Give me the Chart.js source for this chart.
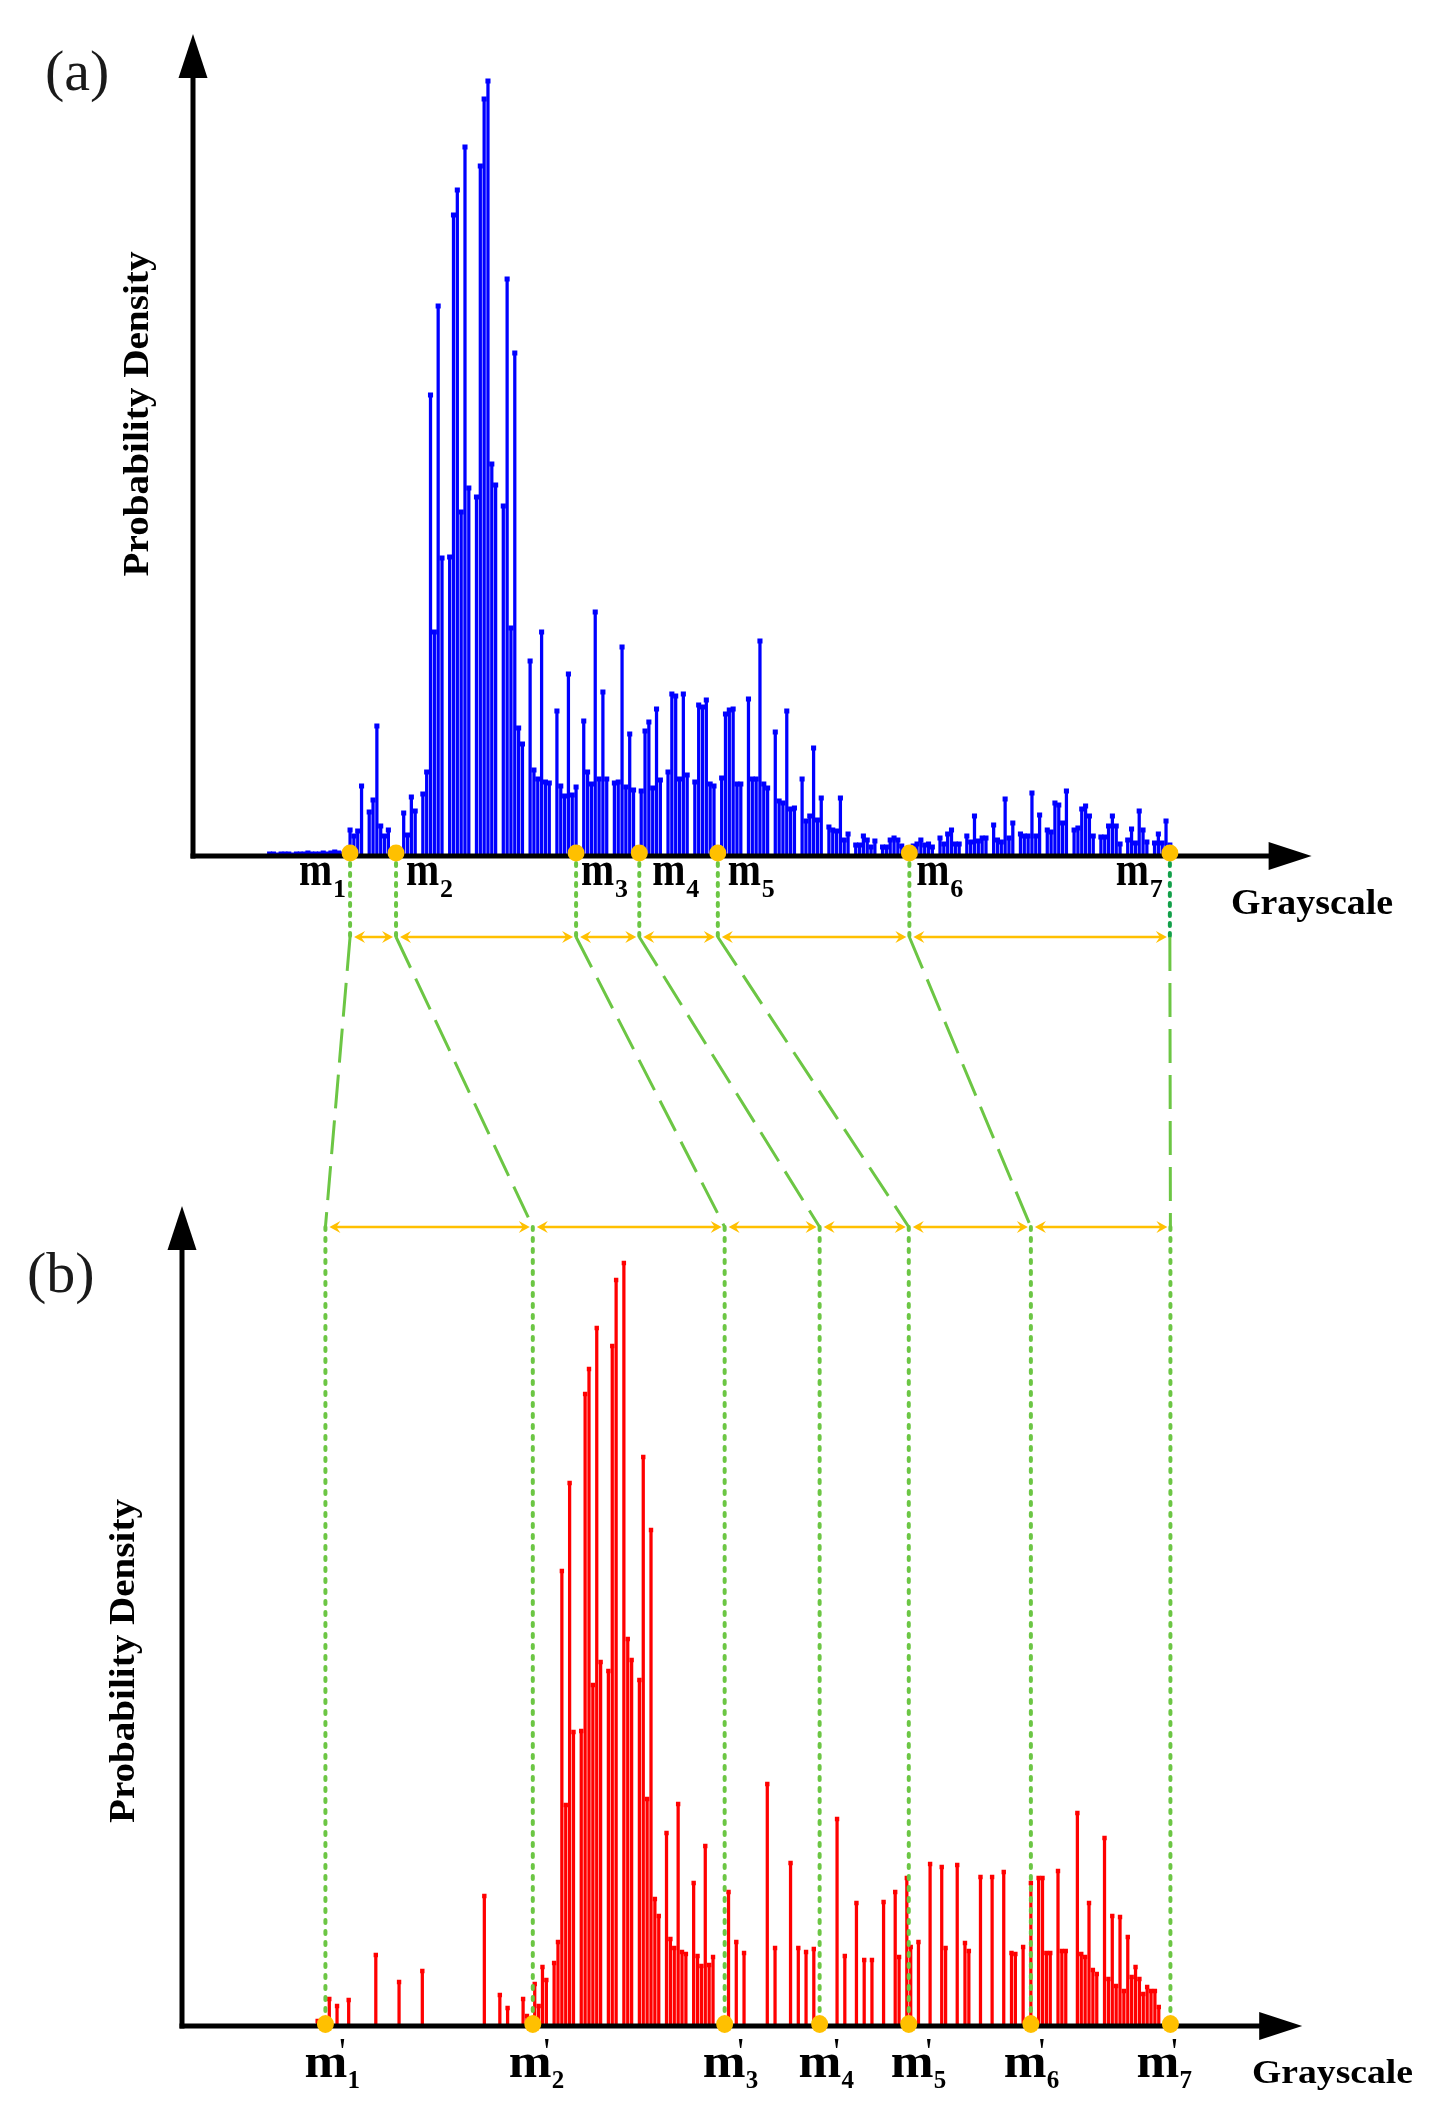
<!DOCTYPE html>
<html>
<head>
<meta charset="utf-8">
<script src="https://cdn.jsdelivr.net/npm/chart.js@4.4.1/dist/chart.umd.min.js"></script>
<style>
html,body{margin:0;padding:0;background:#ffffff;}
#wrap{position:relative;width:1433px;height:2117px;overflow:hidden;background:#fff;}
#wrap canvas{position:absolute;left:0;top:0;}
</style>
</head>
<body>
<div id="wrap">
<canvas id="cTop" width="1433" height="2117"></canvas>
<canvas id="cBot" width="1433" height="2117"></canvas>
</div>
<script>
// ---------------- DATA ----------------
// (a) original histogram: grayscale levels 20..255 and their (relative) probability density
const topGrayFirst = 20, topGrayLast = 255;
const topGray = Array.from({length: topGrayLast - topGrayFirst + 1}, (_, i) => topGrayFirst + i);
const topDensity = [
  2,2,1,2,2,2,1,2,2,2,3,2,2,2,3,2,3,4,3,2,5,
  26,20,25,70,0,44,56,130,30,20,
  26,0,6,6,43,21,59,45,0,62,
  84,461,224,550,298,0,299,641,666,344,
  709,368,0,359,690,757,775,392,371,0,
  350,577,228,503,128,112,0,195,86,77,
  224,74,73,0,145,70,60,182,61,69,
  0,135,84,72,244,77,164,77,0,73,
  74,209,69,122,66,0,65,125,134,68,
  147,76,0,84,162,160,77,162,81,0,
  74,151,149,156,72,70,0,78,142,146,
  147,72,72,0,157,77,77,215,72,68,
  0,124,55,53,145,47,48,0,77,35,
  40,108,36,58,0,29,26,25,58,16,
  22,0,11,11,20,16,9,15,0,9,
  9,16,18,16,10,0,8,10,12,16,
  11,12,9,0,18,12,22,26,12,12,
  0,20,14,40,15,18,18,0,31,16,
  14,57,18,33,0,22,20,20,63,20,
  41,0,26,24,53,51,33,65,0,26,
  28,47,50,40,20,0,19,19,30,40,
  30,12,0,16,27,13,45,26,14,0,
  13,22,13,35,11
];
// (b) transformed histogram
const botGray = [
  35,38,40,43,50,56,62,78,82,84,
  88,89,91,92,93,94,96,97,98,99,
  100,101,103,104,105,106,107,108,110,111,
  112,114,115,116,118,119,120,121,122,123,
  125,126,127,128,129,130,132,133,134,135,
  136,137,141,143,145,151,153,157,159,161,
  163,169,171,174,176,178,181,184,185,187,
  188,190,193,196,197,200,202,203,206,209,
  212,214,215,217,219,221,222,223,224,226,
  227,228,231,232,233,234,235,236,238,239,
  240,241,242,243,244,245,246,247,248,249,
  250,251,252
];
const botDensity = [
  5,27,20,26,71,44,55,130,31,18,
  27,10,42,20,59,46,63,84,455,221,
  543,294,295,632,657,341,698,364,355,680,
  746,763,387,366,346,569,227,496,127,110,
  193,87,78,222,74,72,143,70,60,180,
  61,69,134,84,73,242,78,163,78,74,
  77,207,70,123,66,66,124,134,69,148,
  79,84,162,159,78,161,83,75,149,149,
  154,73,72,79,143,148,148,73,73,155,
  75,75,213,72,69,123,56,52,188,47,
  110,40,109,35,89,49,59,47,32,39,
  35,35,19
];
// split points m1..m7 (original) and m'1..m'7 (mapped)
const topMarks = [41, 53, 100, 116.5, 137, 187, 255];
const botMarks = [37, 90.5, 140, 164.5, 187.5, 219, 255];
const markIndex = ['1','2','3','4','5','6','7'];
const topXMax = 292, topYMax = 822;
const botXMax = 289, botYMax = 820;

// ---------------- CHARTS ----------------
const W = 1433, H = 2117;
function pts(xs, ys){ return xs.map((x,i)=>({x:x, y:ys[i]})); }

function makeChart(id, xs, ys, color, pad, xMax, yMax, capR, plugins){
  const d = pts(xs, ys);
  return new Chart(document.getElementById(id), {
    type: 'bar',
    data: { datasets: [
      { type:'bar', data:d, backgroundColor:color, borderWidth:0, barThickness:2.6, order:2 },
      { type:'line', data:d, showLine:false, pointStyle:'rect',
        pointRadius:(c)=> (c.raw && c.raw.y>0) ? capR : 0,
        pointHoverRadius:0, pointBackgroundColor:color, pointBorderWidth:0, order:1 }
    ]},
    options: {
      responsive:false, animation:false, devicePixelRatio:1,
      events:[],
      layout:{ padding: pad },
      plugins:{ legend:{display:false}, tooltip:{enabled:false}, title:{display:false} },
      scales:{
        x:{ type:'linear', min:0, max:xMax, display:false, offset:false },
        y:{ type:'linear', min:0, max:yMax, display:false }
      }
    },
    plugins: plugins || []
  });
}

const topChart = makeChart('cTop', topGray, topDensity, '#0000ff',
  {left:193, right:W-1311.6, top:34, bottom:H-856}, topXMax, topYMax, 3.6);

// ---------------- DECORATION HELPERS ----------------
function txt(ctx, s, x, y, font, o){
  o = o || {};
  ctx.save();
  ctx.font = font;
  ctx.fillStyle = o.color || '#000';
  ctx.textAlign = o.align || 'left';
  ctx.textBaseline = o.baseline || 'alphabetic';
  let sx = o.sx || 1;
  if (o.width) sx = o.width / ctx.measureText(s).width;
  ctx.translate(x, y);
  if (o.rot) ctx.rotate(o.rot);
  ctx.scale(sx, 1);
  ctx.fillText(s, 0, 0);
  ctx.restore();
}
function axes(ctx, ox, oy, topY, tipX){
  ctx.save();
  ctx.setLineDash([]);
  ctx.strokeStyle = '#000'; ctx.fillStyle = '#000'; ctx.lineWidth = 5; ctx.lineCap='butt';
  ctx.beginPath(); ctx.moveTo(ox, oy+2.5); ctx.lineTo(ox, topY+40); ctx.stroke();
  ctx.beginPath(); ctx.moveTo(ox, topY); ctx.lineTo(ox-14.5, topY+44); ctx.lineTo(ox+14.5, topY+44); ctx.closePath(); ctx.fill();
  ctx.beginPath(); ctx.moveTo(ox-2.5, oy); ctx.lineTo(tipX-40, oy); ctx.stroke();
  ctx.beginPath(); ctx.moveTo(tipX, oy); ctx.lineTo(tipX-43, oy-14); ctx.lineTo(tipX-43, oy+14); ctx.closePath(); ctx.fill();
  ctx.restore();
}
function head(ctx, tx, y, dir){
  ctx.beginPath(); ctx.moveTo(tx, y); ctx.lineTo(tx-dir*11, y-6); ctx.lineTo(tx-dir*7, y); ctx.lineTo(tx-dir*11, y+6); ctx.closePath(); ctx.fill();
}
function dblArrows(ctx, xs, y){
  ctx.save(); ctx.setLineDash([]);
  ctx.strokeStyle = '#FFC000'; ctx.fillStyle = '#FFC000'; ctx.lineWidth = 2.5;
  for (let i=0;i<xs.length-1;i++){
    const a = xs[i]+4, b = xs[i+1]-3;
    ctx.beginPath(); ctx.moveTo(a+6, y); ctx.lineTo(b-6, y); ctx.stroke();
    head(ctx, a, y, -1); head(ctx, b, y, 1);
  }
  ctx.restore();
}
function dashLine(ctx, x1, y1, x2, y2, color, width, dash, cap){
  ctx.save(); ctx.strokeStyle=color; ctx.lineWidth=width; ctx.setLineDash(dash); ctx.lineCap=cap||'butt';
  ctx.beginPath(); ctx.moveTo(x1,y1); ctx.lineTo(x2,y2); ctx.stroke(); ctx.restore();
}
function dot(ctx, x, y, rx, ry){
  ctx.save(); ctx.fillStyle='#FFC000'; ctx.beginPath(); ctx.ellipse(x, y, rx, ry, 0, 0, Math.PI*2); ctx.fill(); ctx.restore();
}
function prime(ctx, x, yTop){
  // small wedge-shaped prime mark
  ctx.save(); ctx.fillStyle='#000';
  ctx.beginPath(); ctx.moveTo(x-1.8, yTop); ctx.lineTo(x+1.8, yTop); ctx.lineTo(x+0.6, yTop+9); ctx.lineTo(x-0.6, yTop+9); ctx.closePath(); ctx.fill();
  ctx.restore();
}

const GREEN = '#6cc644', DARKGREEN = '#12a04a';
const ARROW_Y_TOP = 937, ARROW_Y_BOT = 1227;

const decor = {
  id:'decor',
  afterDraw(chart){
    const ctx = chart.ctx;
    const tx = v => topChart.scales.x.getPixelForValue(v);
    const ty = v => topChart.scales.y.getPixelForValue(v);
    const bx = v => chart.scales.x.getPixelForValue(v);
    const by = v => chart.scales.y.getPixelForValue(v);
    const tox = tx(0), toy = ty(0), box = bx(0), boy = by(0);
    const tMx = topMarks.map(tx), bMx = botMarks.map(bx);

    // axes
    axes(ctx, tox, toy, ty(topYMax), tx(topXMax));
    axes(ctx, box, boy, by(botYMax), bx(botXMax));

    // top short dashed drops
    tMx.forEach((x,i)=> dashLine(ctx, x, toy+7, x, ARROW_Y_TOP, i===6?DARKGREEN:GREEN, 4, [3,7], 'round'));
    // slanted long dashed connectors
    tMx.forEach((x,i)=> dashLine(ctx, x, ARROW_Y_TOP, bMx[i], ARROW_Y_BOT, GREEN, 3, [34,12], 'butt'));
    // bottom short dashed drops
    bMx.forEach((x)=> dashLine(ctx, x, ARROW_Y_BOT, x, boy-9, GREEN, 4, [3,8], 'round'));

    // interval arrows
    dblArrows(ctx, tMx, ARROW_Y_TOP);
    dblArrows(ctx, bMx, ARROW_Y_BOT);

    // dots
    tMx.forEach(x=> dot(ctx, x, toy-3, 8.5, 8.5));
    bMx.forEach(x=> dot(ctx, x, boy-2, 8.5, 9));

    // panel letters
    txt(ctx, '(a)', 45, 90, '58px "Liberation Serif"', {color:'#1a1a1a'});
    txt(ctx, '(b)', 27, 1292, '58px "Liberation Serif"', {color:'#1a1a1a'});

    // axis titles
    txt(ctx, 'Probability Density', 139, 414, 'bold 36px "Liberation Serif"', {align:'center', baseline:'middle', rot:-Math.PI/2, width:325});
    txt(ctx, 'Probability Density', 125, 1661, 'bold 36px "Liberation Serif"', {align:'center', baseline:'middle', rot:-Math.PI/2, width:324});
    txt(ctx, 'Grayscale', 1231, 914, 'bold 36px "Liberation Serif"', {width:162});
    txt(ctx, 'Grayscale', 1252, 2083, 'bold 34px "Liberation Serif"', {width:161});

    // m labels (top)
    const topOff = [-51, 10, 5, 13, 10, 7, -54];
    tMx.forEach((x,i)=>{
      const lx = x + topOff[i];
      txt(ctx, 'm', lx, 885, 'bold 48px "Liberation Serif"', {sx:0.83});
      txt(ctx, markIndex[i], lx+34, 897, 'bold 26px "Liberation Serif"');
    });
    // m' labels (bottom)
    const botOff = [-21, -24, -22, -21, -18, -27, -34];
    bMx.forEach((x,i)=>{
      const lx = x + botOff[i];
      txt(ctx, 'm', lx, 2077, 'bold 48px "Liberation Serif"', {sx:1.07});
      prime(ctx, lx+38, 2039);
      txt(ctx, markIndex[i], lx+43, 2088, 'bold 25px "Liberation Serif"');
    });
  }
};

const botChart = makeChart('cBot', botGray, botDensity, '#ff0000',
  {left:182, right:W-1302.2, top:1206, bottom:H-2026}, botXMax, botYMax, 3.1, [decor]);
</script>
</body>
</html>
